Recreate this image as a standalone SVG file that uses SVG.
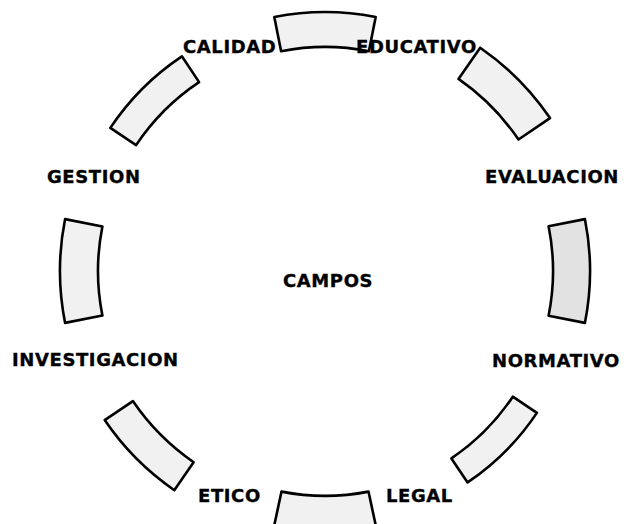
<svg xmlns="http://www.w3.org/2000/svg" width="624" height="524" viewBox="0 0 624 524">
<style>
.seg{fill:#f1f1f1;stroke:#000;stroke-width:2.6;stroke-linejoin:round}
.dark{fill:#e2e2e2}
.lbl{font-family:"DejaVu Sans","Liberation Sans",sans-serif;font-weight:bold;font-size:18px;letter-spacing:0.6px;fill:#000;stroke:#000;stroke-width:0.35}
</style>
<rect width="624" height="524" fill="#fff"/>
<g id="connectors">
<path class="seg" d="M274.3,17 A259,259 0 0 1 375.7,17 L368.9,51.3 A224,224 0 0 0 281.1,51.3 Z"/>
<path class="seg" d="M480.2,47.7 A272,272 0 0 1 550,118.1 L518.5,139.5 A234,234 0 0 0 458.5,78.9 Z"/>
<path class="seg dark" d="M584.9,219.1 A265,265 0 0 1 584.9,322.9 L548.6,315.7 A228,228 0 0 0 548.6,226.3 Z"/>
<path class="seg" d="M536.9,412.9 A255,255 0 0 1 467.6,482.4 L451.4,458.4 A226,226 0 0 0 512.8,396.7 Z"/>
<path class="seg" d="M375.9,526 A260,260 0 0 1 274.1,526 L281.5,491.6 A225,225 0 0 0 368.5,491.6 Z"/>
<path class="seg" d="M174.3,490.2 A266,266 0 0 1 104.7,420.1 L132.9,401.1 A232,232 0 0 0 193.6,462.2 Z"/>
<path class="seg" d="M65.1,322.9 A265,265 0 0 1 65.1,219.1 L102.4,226.5 A227,227 0 0 0 102.4,315.5 Z"/>
<path class="seg" d="M110.3,127.9 A258,258 0 0 1 181.9,56.3 L199.1,82.1 A227,227 0 0 0 136.1,145.1 Z"/>
</g>
<g id="calidad"><text class="lbl" x="183" y="53">CALIDAD</text></g>
<g id="educativo"><text class="lbl" x="356" y="53">EDUCATIVO</text></g>
<g id="evaluacion"><text class="lbl" x="485" y="183">EVALUACION</text></g>
<g id="normativo"><text class="lbl" x="492" y="367">NORMATIVO</text></g>
<g id="legal"><text class="lbl" x="386" y="502">LEGAL</text></g>
<g id="etico"><text class="lbl" x="198" y="502">ETICO</text></g>
<g id="investigacion"><text class="lbl" x="12" y="366">INVESTIGACION</text></g>
<g id="gestion"><text class="lbl" x="47" y="183">GESTION</text></g>
<g id="campos"><text class="lbl" x="283" y="287">CAMPOS</text></g>
</svg>
